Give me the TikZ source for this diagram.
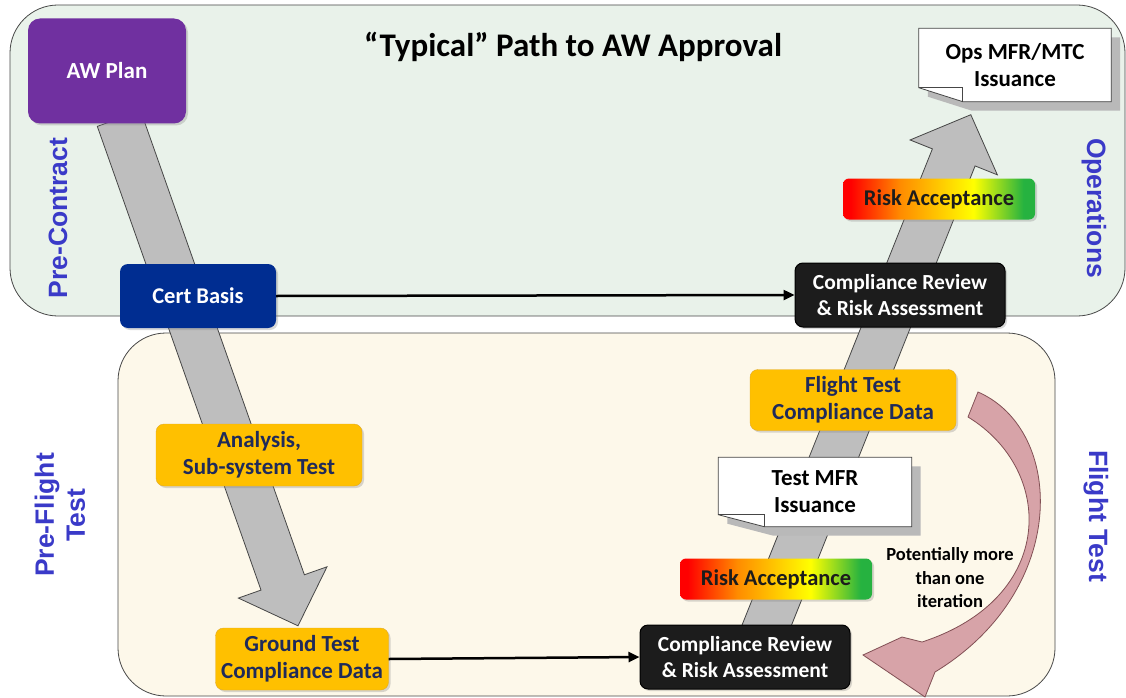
\documentclass[tikz,border=0pt]{standalone}
\usepackage{fontspec}
\setmainfont{Carlito}
\newfontfamily\phasefont{Liberation Sans}
\usepackage{tikz}
\usetikzlibrary{calc,arrows.meta,shadows}
\definecolor{opspanel}{RGB}{233,242,234}
\definecolor{testpanel}{RGB}{253,248,234}
\definecolor{panelline}{RGB}{70,70,70}
\definecolor{awpurple}{RGB}{112,48,160}
\definecolor{certblue}{RGB}{0,45,145}
\definecolor{dataorange}{RGB}{255,192,0}
\definecolor{dataedge}{RGB}{225,170,40}
\definecolor{datanavy}{RGB}{31,42,90}
\definecolor{reviewblack}{RGB}{28,28,28}
\definecolor{phaseblue}{RGB}{58,58,200}
\definecolor{pathgray}{RGB}{190,190,190}
\definecolor{looppink}{RGB}{215,163,168}
\definecolor{loopline}{RGB}{130,80,85}
\pgfdeclarehorizontalshading{riskshade}{100bp}{rgb(0bp)=(1,0,0); rgb(27bp)=(1,0,0); rgb(40bp)=(1,0.55,0); rgb(59bp)=(1,1,0); rgb(72bp)=(0.15,0.7,0.25); rgb(100bp)=(0.15,0.7,0.25)}
\pgfdeclarelayer{bg}
\pgfdeclarelayer{mid}
\pgfsetlayers{bg,mid,main}
% wide gray path arrow: start, tip
\newcommand{\pathshaft}[2]{%
  \coordinate (hb) at ($(#2)!46pt!(#1)$);
  \filldraw[grayarrow] ($(#1)!23pt!90:(#2)$) -- ($(hb)!23pt!90:(#2)$)
    -- ($(hb)!47pt!90:(#2)$) -- (#2) -- ($(hb)!47pt!-90:(#2)$)
    -- ($(hb)!23pt!-90:(#2)$) -- ($(#1)!23pt!-90:(#2)$) -- cycle;}
% memo paper behind a note node: node, fold width, fold height
\newcommand{\notepaper}[3]{%
  \fill[gray!55] ($(#1.north west)+(9,9)$) -- ($(#1.north east)+(9,9)$)
    -- ($(#1.south east)+(9,9)$) -- ($(#1.south west)+(#2+9,9)$)
    -- ($(#1.south west)+(9,9-#3)$) -- cycle;
  \filldraw[fill=white, draw=panelline, line width=0.8pt] (#1.north west) -- (#1.north east)
    -- (#1.south east) -- ($(#1.south west)+(#2,0)$) -- ($(#1.south west)+(0,-#3)$) -- cycle;
  \draw[panelline, line width=0.8pt] ($(#1.south west)+(0,-#3)$) -- ($(#1.south west)+(#2,-#3)$)
    -- ($(#1.south west)+(#2,0)$);}

\begin{document}
\begin{tikzpicture}[x=1pt,y=-1pt,
    panel/.style={draw=panelline, line width=0.8pt, rounded corners=48pt},
    boxshadow/.style={drop shadow={opacity=0.3, shadow xshift=2pt, shadow yshift=-2pt}},
    awbox/.style={rounded corners=12pt, fill=awpurple, text=white, boxshadow,
      font=\bfseries\fontsize{23}{27}\selectfont, inner sep=0pt},
    certbox/.style={rounded corners=8pt, fill=certblue, text=white, boxshadow,
      font=\bfseries\fontsize{22.5}{27}\selectfont, inner sep=0pt},
    databox/.style={rounded corners=8pt, fill=dataorange, draw=dataedge, text=datanavy,
      boxshadow, align=center, font=\bfseries\fontsize{23}{27}\selectfont, inner sep=0pt},
    reviewbox/.style={rounded corners=8pt, fill=reviewblack, draw=black, line width=1pt,
      text=white, align=center, minimum width=210pt, minimum height=64pt, boxshadow,
      font=\bfseries\fontsize{21.5}{26}\selectfont, inner sep=0pt},
    riskbox/.style={rounded corners=6pt, shade, shading=riskshade, text=reviewblack,
      minimum width=192pt, minimum height=41pt, boxshadow,
      font=\bfseries\fontsize{22.5}{26}\selectfont, inner sep=0pt},
    notetext/.style={align=center, inner sep=0pt, text=black,
      font=\bfseries\fontsize{23}{27}\selectfont},
    phaselabel/.style={text=phaseblue, align=center,
      font=\phasefont\bfseries\fontsize{26.5}{31}\selectfont},
    looptext/.style={align=center, text=black, font=\bfseries\fontsize{18.5}{23.5}\selectfont},
    grayarrow/.style={fill=pathgray, draw=panelline, line width=0.8pt},
    flowline/.style={line width=2.5pt, -{Triangle[length=11pt,width=10pt]}}]
    \useasboundingbox (0,0) rectangle (1126,698);

    % boxes %
    \node[awbox, minimum width=158pt, minimum height=105pt] (awplan) at (107,71) {AW Plan};
    \node[certbox, minimum width=156pt, minimum height=64pt] (cert) at (198,296) {Cert Basis};
    \node[databox, minimum width=206pt, minimum height=62pt] (analysis) at (259,455) {Analysis,\\Sub-system Test};
    \node[databox, minimum width=173pt, minimum height=62pt] (gtest) at (302,659) {Ground Test\\Compliance Data};
    \node[reviewbox] (crbot) at (745,657) {Compliance Review\\\& Risk Assessment};
    \node[riskbox] (riskbot) at (776,579) {Risk Acceptance};
    \node[notetext, minimum width=193pt, minimum height=69pt] (testmfr) at (815,492) {Test MFR\\Issuance};
    \node[databox, minimum width=206pt, minimum height=61pt] (ftest) at (853,400) {Flight Test\\Compliance Data};
    \node[reviewbox] (crtop) at (900,295) {Compliance Review\\\& Risk Assessment};
    \node[riskbox] (risktop) at (939,199) {Risk Acceptance};
    \node[notetext, minimum width=192pt, minimum height=73pt] (opsnote) at (1015,65) {Ops MFR/MTC\\Issuance};

    % labels %
    \node[font=\bfseries\fontsize{33}{38}\selectfont] (title) at (573,47) {“Typical” Path to AW Approval};
    \node[phaselabel, rotate=90] (precontract) at (58,218) {Pre-Contract};
    \node[phaselabel, rotate=-90] (operations) at (1094,208) {Operations};
    \node[phaselabel, rotate=90] (preflight) at (60,515) {Pre-Flight\\Test};
    \node[phaselabel, rotate=-90] (flighttest) at (1096,516) {Flight Test};
    \node[looptext] (iterate) at (950,578) {Potentially more\\than one\\iteration};

    % panels and gray paths %
    \begin{pgfonlayer}{bg}
    \draw[panel, fill=opspanel] (10,5) rectangle (1125,316);
    \draw[panel, fill=testpanel] (118,333) rectangle (1055,696);
    \coordinate (downS) at ($(awplan.south)+(12,-5)$);
    \coordinate (downE) at ($(gtest.north)+(-4,-2)$);
    \pathshaft{downS}{downE}
    \coordinate (upS) at ($(crbot.north)+(16,15)$);
    \coordinate (upE) at ($(opsnote.south west)+(52,13)$);
    \pathshaft{upS}{upE}
    \end{pgfonlayer}

    % memo papers and iteration loop %
    \begin{pgfonlayer}{mid}
    \notepaper{testmfr}{46}{12}
    \notepaper{opsnote}{44}{14}
    \filldraw[fill=looppink, draw=loopline, line width=0.8pt] (978,392)
      .. controls (1065,430) and (1070,590) .. (935,672) -- (925,697) -- (863,655)
      -- (902,637) -- (922,642) .. controls (1057,598) and (1055,470) .. (968,417) -- cycle;
    \end{pgfonlayer}

    % flow arrows %
    \draw[flowline] (cert.east) -- (crtop.west);
    \draw[flowline] (gtest.east) -- (crbot.west);
\end{tikzpicture}
\end{document}
